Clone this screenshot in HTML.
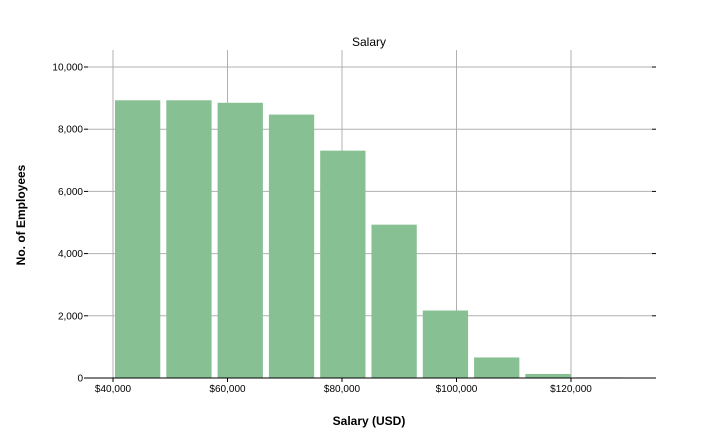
<!DOCTYPE html>
<html><head><meta charset="utf-8"><style>
body{margin:0;background:#fff;font-family:"Liberation Sans",sans-serif;}
svg text{font-family:"Liberation Sans",sans-serif;}
</style></head><body>
<svg id="chart" width="720" height="432"></svg>
<script>
const binStarts=[40000,48960,57920,66880,75840,84800,93760,102720,111680,120640];
const counts=[8930,8930,8850,8470,7310,4930,2170,660,130,20];
const xTicks=[40000,60000,80000,100000,120000];
const xTickLabels=["$40,000","$60,000","$80,000","$100,000","$120,000"];
const yTicks=[0,2000,4000,6000,8000,10000];
const yTickLabels=["0","2,000","4,000","6,000","8,000","10,000"];
const binWidth=8960;
const NS="http://www.w3.org/2000/svg";
const svg=document.getElementById('chart');
const L=88,R=652,T=50,B=378;
const x=v=>113+(v-40000)*458/80000;
const y=v=>378-v*311/10000;
function mk(t,a,p){const e=document.createElementNS(NS,t);for(const k in a)e.setAttribute(k,a[k]);(p||svg).appendChild(e);return e;}
yTicks.forEach((v,i)=>{
 const g=mk('line',{x1:L,x2:R,y1:y(v),y2:y(v),stroke:'#b0b0b0','stroke-width':1});
 
 
 mk('line',{x1:L-4,x2:L,y1:y(v),y2:y(v),stroke:'#000'});
 mk('line',{x1:R,x2:R+4,y1:y(v),y2:y(v),stroke:'#000'});
 const t=mk('text',{x:L-5,y:y(v)+3.5,'text-anchor':'end','font-size':10});
 t.textContent=yTickLabels[i];
 
 
});
xTicks.forEach((v,i)=>{
 const g=mk('line',{x1:x(v),x2:x(v),y1:T,y2:B,stroke:'#b0b0b0','stroke-width':1});
 
 
 mk('line',{x1:x(v),x2:x(v),y1:B,y2:B+4,stroke:'#000'});
 const t=mk('text',{x:x(v),y:B+14,'text-anchor':'middle','font-size':10});
 t.textContent=xTickLabels[i];
 
 
});
binStarts.forEach((s,i)=>{
 const x0=x(s)+2,x1=x(s+binWidth)-4;
 const r=mk('rect',{x:x0,y:y(counts[i]),width:x1-x0,height:B-y(counts[i]),fill:'#87c093'});
 
 
});
const ax=mk('line',{x1:L,x2:R,y1:B,y2:B,stroke:'#000','stroke-width':1});


const ti=mk('text',{x:369,y:46,'text-anchor':'middle','font-size':12});ti.textContent='Salary';


const xl=mk('text',{x:369,y:425,'text-anchor':'middle','font-size':12,'font-weight':'bold'});xl.textContent='Salary (USD)';


const yl=mk('text',{x:25,y:215,'text-anchor':'middle','font-size':12,'font-weight':'bold',transform:'rotate(-90 25 215)'});yl.textContent='No. of Employees';


</script>
</body></html>
